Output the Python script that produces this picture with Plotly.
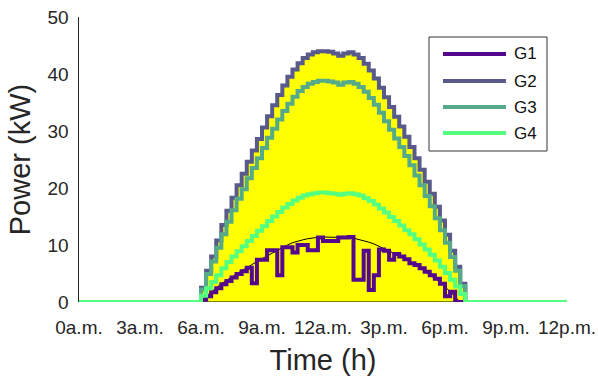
import plotly.graph_objects as go

# time grid (h), 15-min steps during daylight, plus day start/end
hours = [0.0,
         6.0, 6.25, 6.5, 6.75, 7.0, 7.25, 7.5, 7.75, 8.0, 8.25, 8.5, 8.75,
         9.0, 9.25, 9.5, 9.75, 10.0, 10.25, 10.5, 10.75, 11.0, 11.25, 11.5, 11.75,
         12.0, 12.25, 12.5, 12.75, 13.0, 13.25, 13.5, 13.75, 14.0, 14.25, 14.5, 14.75,
         15.0, 15.25, 15.5, 15.75, 16.0, 16.25, 16.5, 16.75, 17.0, 17.25, 17.5, 17.75,
         18.0, 18.25, 18.5, 18.75, 19.0,
         24.0]

g1 = [0.0,
      0.4, 1.0, 1.7, 2.4, 3.1, 3.7, 4.3, 4.9, 5.4, 6.0, 3.3, 7.4,
      7.4, 9.1, 9.1, 4.7, 9.6, 9.6, 8.7, 10.0, 10.0, 9.1, 9.1, 11.3,
      10.7, 10.7, 10.7, 11.3, 11.3, 11.4, 3.9, 3.9, 9.0, 2.1, 4.7, 9.2,
      9.0, 7.4, 8.4, 8.0, 7.5, 6.8, 6.5, 5.9, 5.3, 4.7, 4.1, 3.2,
      1.0, 1.8, 0.0, 0.0, 0.0,
      0.0]

g1_ideal = [0.0,
            0.0, 1.0, 1.8, 2.5, 3.2, 3.8, 4.4, 5.0, 5.5, 6.0, 6.6, 7.1,
            7.6, 8.1, 8.6, 9.1, 9.6, 10.0, 10.4, 10.7, 10.9, 11.1, 11.25, 11.35,
            11.4, 11.4, 11.35, 11.3, 11.3, 11.3, 11.2, 11.0, 10.8, 10.5, 10.2, 9.8,
            9.4, 9.0, 8.6, 8.1, 7.6, 7.1, 6.6, 6.0, 5.4, 4.8, 4.2, 3.5,
            2.7, 1.8, 0.8, 0.0, 0.0,
            0.0]

g2 = [0.0,
      2.5, 5.5, 8.0, 10.8, 13.5, 16.0, 18.3, 20.5, 22.5, 24.6, 26.6, 28.6,
      30.6, 32.6, 34.5, 36.3, 38.0, 39.5, 40.8, 41.9, 42.8, 43.4, 43.8, 44.0,
      44.0, 43.9, 43.6, 43.2, 43.6, 43.8, 43.4, 42.8, 41.8, 40.6, 39.2, 37.6,
      35.9, 34.2, 32.5, 30.8, 29.0, 27.2, 25.2, 23.2, 21.1, 19.0, 16.7, 14.3,
      11.8, 9.0, 6.2, 3.2, 0.0,
      0.0]

g3 = [0.0,
      2.2, 4.9, 7.1, 9.5, 11.9, 14.1, 16.1, 18.1, 19.8, 21.7, 23.5, 25.2,
      27.0, 28.8, 30.4, 32.0, 33.5, 34.8, 36.0, 37.0, 37.7, 38.3, 38.6, 38.8,
      38.8, 38.7, 38.5, 38.1, 38.5, 38.6, 38.3, 37.7, 36.9, 35.8, 34.6, 33.2,
      31.7, 30.2, 28.7, 27.2, 25.6, 24.0, 22.2, 20.5, 18.6, 16.8, 14.7, 12.6,
      10.4, 7.9, 5.5, 2.8, 0.0,
      0.0]

g4 = [0.0,
      1.1, 2.4, 3.5, 4.7, 5.9, 7.0, 8.0, 8.9, 9.8, 10.7, 11.6, 12.5,
      13.3, 14.2, 15.0, 15.8, 16.6, 17.2, 17.8, 18.3, 18.7, 18.9, 19.1, 19.2,
      19.2, 19.1, 19.0, 18.8, 19.0, 19.1, 18.9, 18.7, 18.2, 17.7, 17.1, 16.4,
      15.7, 14.9, 14.2, 13.4, 12.6, 11.9, 11.0, 10.1, 9.2, 8.3, 7.3, 6.2,
      5.1, 3.9, 2.7, 1.4, 0.0,
      0.0]

tick_vals = [0, 3, 6, 9, 12, 15, 18, 21, 24]
tick_text = ["0a.m.", "3a.m.", "6a.m.", "9a.m.", "12a.m.", "3p.m.", "6p.m.", "9p.m.", "12p.m."]

names = ["G1", "G2", "G3", "G4"]
colors = ["#55088c", "#575a8a", "#55aa88", "#55ff80"]

FONT = "Liberation Sans, Arial, sans-serif"
TXT = "#262626"

fig = go.Figure()

# yellow area under G2 with thin black edge (area-style)
fig.add_trace(go.Scatter(
    x=hours[1:-1] + [hours[-2], hours[1]],
    y=g2[1:-1] + [0.0, 0.0],
    mode="lines", line=dict(color="black", width=1, shape="hv"),
    fill="toself", fillcolor="#ffff00", showlegend=False, hoverinfo="skip"))

# ideal G1 curve
fig.add_trace(go.Scatter(x=hours, y=g1_ideal, mode="lines",
                         line=dict(color="black", width=1),
                         showlegend=False))

for name, ys, col in zip(names, [g1, g2, g3, g4], colors):
    fig.add_trace(go.Scatter(x=hours, y=ys, mode="lines", name=name,
                             line=dict(color=col, width=4, shape="hv"),
                             showlegend=False))

# legend drawn in paper coordinates
W, L, T, H = 488.0, 79.0, 17.0, 285.0
def px(x):
    return (x - L) / W
def py(y):
    return (T + H - y) / H

fig.add_shape(type="rect", xref="paper", yref="paper",
              x0=px(429), x1=px(547), y0=py(151), y1=py(37),
              line=dict(color="#333333", width=1), fillcolor="white", layer="above")
rows = [54, 81, 107, 133]
for name, col, r in zip(names, colors, rows):
    fig.add_shape(type="line", xref="paper", yref="paper",
                  x0=px(443), x1=px(506), y0=py(r), y1=py(r),
                  line=dict(color=col, width=4), layer="above")
    fig.add_annotation(xref="paper", yref="paper", x=px(512), y=py(r),
                       text=name, showarrow=False, xanchor="left", yanchor="middle",
                       font=dict(family=FONT, size=17, color="#111111"))

fig.update_layout(
    width=598, height=381,
    margin=dict(l=79, r=31, t=17, b=79, autoexpand=False),
    paper_bgcolor="white", plot_bgcolor="white",
    font=dict(family=FONT, color=TXT),
    showlegend=False,
)
fig.update_xaxes(range=[0, 24], tickvals=tick_vals, ticktext=tick_text,
                 automargin=False,
                 showgrid=False, zeroline=False, showline=False, ticks="",
                 tickfont=dict(family=FONT, size=19, color=TXT),
                 ticklabelstandoff=12,
                 title=dict(text="Time (h)", font=dict(family=FONT, size=29, color=TXT),
                            standoff=12))
fig.update_yaxes(range=[0, 50], tickvals=[0, 10, 20, 30, 40, 50],
                 automargin=False,
                 showgrid=False, zeroline=False, showline=True,
                 linecolor=TXT, linewidth=1.5, ticks="",
                 tickfont=dict(family=FONT, size=19, color=TXT),
                 ticklabelstandoff=5,
                 title=dict(text="Power (kW)", font=dict(family=FONT, size=29, color=TXT),
                            standoff=8))

fig.write_html("out.html",
               config={"displayModeBar": False, "staticPlot": True},
               post_script="document.body.style.margin='0';document.body.style.overflow='hidden';")
